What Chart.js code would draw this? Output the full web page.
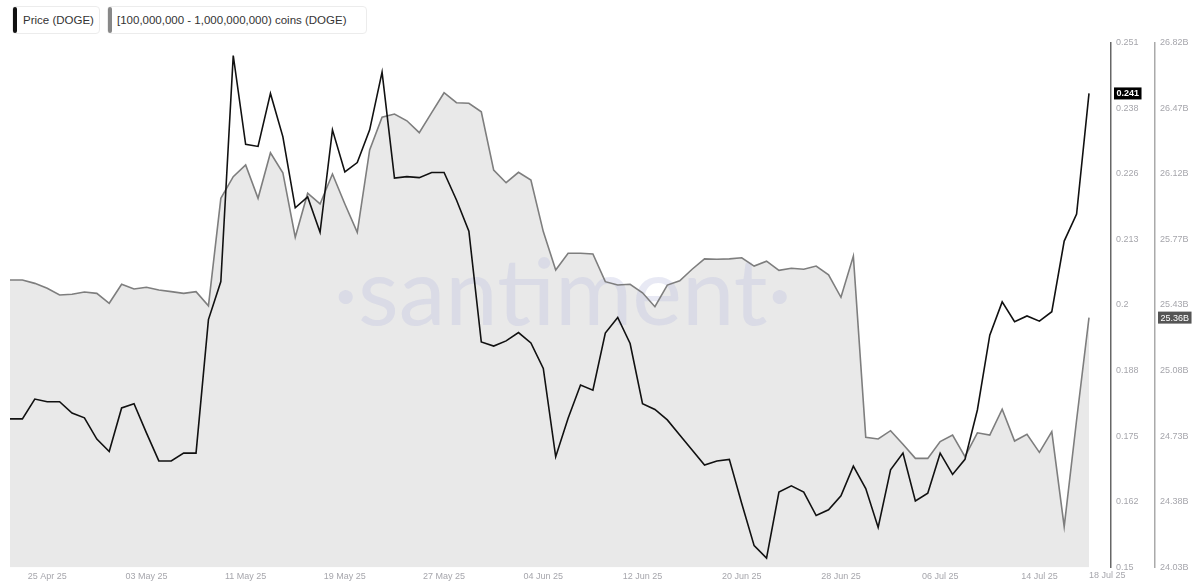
<!DOCTYPE html>
<html><head><meta charset="utf-8">
<script src="https://cdn.jsdelivr.net/npm/chart.js@4"></script>
<style>
html,body{margin:0;padding:0;background:#fff;width:1200px;height:587px;overflow:hidden;}
#wrap{position:relative;width:1200px;height:587px;}
#c{position:absolute;left:0;top:0;}
.leg{position:absolute;top:6px;height:28px;border:1px solid #ececec;border-radius:4px;box-sizing:border-box;font:11.5px "Liberation Sans",Arial,sans-serif;color:#333;line-height:26px;white-space:nowrap;background:#fff;}
.leg i{position:absolute;left:0;top:0;bottom:0;width:4px;border-radius:2px;}
</style></head>
<body><div id="wrap">
<canvas id="c" width="1200" height="587"></canvas>
<div class="leg" style="left:12px;width:88px;padding-left:10px;"><i style="background:#111"></i>Price (DOGE)</div>
<div class="leg" style="left:107px;width:260px;padding-left:9px;"><i style="background:#888"></i>[100,000,000 - 1,000,000,000) coins (DOGE)</div>
</div>
<script>
const price = [0.1786,0.1786,0.1824,0.1819,0.1819,0.1797,0.1788,0.1747,0.1723,0.1807,
0.1815,0.1759,0.1705,0.1705,0.1720,0.1720,0.1977,0.2050,0.2485,0.2314,
0.2310,0.2412,0.2329,0.2192,0.2213,0.2145,0.2342,0.2261,0.2279,0.2342,
0.2453,0.2249,0.2252,0.2250,0.2260,0.2260,0.2207,0.2147,0.1934,0.1926,
0.1936,0.1952,0.1932,0.1883,0.1713,0.1787,0.1851,0.1841,0.1951,0.1981,
0.1931,0.1815,0.1804,0.1784,0.1755,0.1726,0.1697,0.1705,0.1708,0.1623,
0.1542,0.1518,0.1645,0.1657,0.1645,0.1600,0.1611,0.1638,0.1695,0.1652,
0.1577,0.1688,0.1720,0.1628,0.1643,0.1720,0.1679,0.1708,0.1803,0.1947,
0.2011,0.1973,0.1984,0.1974,0.1992,0.2128,0.2180,0.2412];
const coins = [25.558,25.558,25.540,25.514,25.478,25.482,25.494,25.487,25.434,25.535,
25.510,25.519,25.505,25.496,25.487,25.496,25.421,25.992,26.107,26.169,
25.992,26.234,26.128,25.785,26.019,25.962,26.121,25.962,25.811,26.249,
26.423,26.440,26.404,26.341,26.447,26.553,26.500,26.497,26.452,26.142,
26.075,26.130,26.089,25.815,25.611,25.700,25.700,25.696,25.549,25.531,
25.535,25.490,25.416,25.531,25.554,25.615,25.670,25.668,25.670,25.676,
25.632,25.658,25.609,25.620,25.615,25.632,25.585,25.466,25.685,24.722,
24.713,24.757,24.685,24.610,24.610,24.699,24.734,24.619,24.746,24.734,
24.871,24.702,24.738,24.642,24.752,24.247,24.814,25.358];
const priceTicks = ['0.15','0.162','0.175','0.188','0.2','0.213','0.226','0.238','0.251'];
const coinTicks = ['24.03B','24.38B','24.73B','25.08B','25.43B','25.77B','26.12B','26.47B','26.82B'];
const xTickLabels = ['25 Apr 25','03 May 25','11 May 25','19 May 25','27 May 25','04 Jun 25','12 Jun 25','20 Jun 25','28 Jun 25','06 Jul 25','14 Jul 25','18 Jul 25'];
const xTickIdx = [3,11,19,27,35,43,51,59,67,75,83,87];

const tickFont = {family:'"Liberation Sans", Arial, sans-serif', size:9};
const tickColor = '#a6a6ac';

const toXY = arr => arr.map((v,i)=>({x:i,y:v}));

const watermark = {
  id:'watermark',
  beforeDatasetsDraw(chart){
    const ctx = chart.ctx, a = chart.chartArea;
    ctx.save();
    ctx.font = '400 94px Lato, "Open Sans", sans-serif';
    ctx.fillStyle = 'rgba(190,194,225,0.36)';
    ctx.textAlign = 'center';
    ctx.textBaseline = 'alphabetic';
    ctx.fillText('\u00b7santiment\u00b7', a.left + (a.right-a.left)*0.502, 325);
    ctx.restore();
  }
};
const extras = {
  id:'extras',
  afterDraw(chart){
    const ctx = chart.ctx;
    const xs = chart.scales.x, yp = chart.scales.yPrice, yc = chart.scales.yCoins;
    ctx.save();
    ctx.font = '9px "Liberation Sans", Arial, sans-serif';
    ctx.fillStyle = tickColor;
    ctx.textAlign = 'left'; ctx.textBaseline = 'top';
    ctx.fillText(xTickLabels[xTickLabels.length-1], xs.getPixelForValue(xTickIdx[xTickIdx.length-1]), xs.top + 4);
    const lp = price[price.length-1], lc = coins[coins.length-1];
    ctx.textBaseline = 'middle';
    let y = yp.getPixelForValue(lp);
    let t = lp.toFixed(3);
    ctx.font = 'bold 9px "Liberation Sans", Arial, sans-serif';
    let w = ctx.measureText(t).width + 5;
    ctx.fillStyle = '#000';
    ctx.fillRect(yp.left + 3, y - 6, w, 12);
    ctx.fillStyle = '#fff';
    ctx.fillText(t, yp.left + 5.5, y + 0.5);
    y = yc.getPixelForValue(lc);
    t = lc.toFixed(2) + 'B';
    ctx.font = '9px "Liberation Sans", Arial, sans-serif';
    w = ctx.measureText(t).width + 5;
    ctx.fillStyle = '#555';
    ctx.fillRect(yc.left + 3, y - 6, w, 12);
    ctx.fillStyle = '#fff';
    ctx.fillText(t, yc.left + 5.5, y + 0.5);
    ctx.restore();
  }
};

new Chart(document.getElementById('c'), {
  type:'line',
  data:{datasets:[
    {label:'Price (DOGE)', data:toXY(price), yAxisID:'yPrice', borderColor:'#111', borderWidth:1.6, pointRadius:0, fill:false, tension:0, order:1},
    {label:'[100,000,000 - 1,000,000,000) coins (DOGE)', data:toXY(coins), yAxisID:'yCoins', borderColor:'#7e7e7e', borderWidth:1.6, pointRadius:0, fill:'start', backgroundColor:'#e9e9e9', tension:0, order:2}
  ]},
  options:{
    responsive:false, animation:false, events:[],
    layout:{padding:{top:42.5,left:10,right:0,bottom:0}},
    plugins:{legend:{display:false}, tooltip:{enabled:false}, filler:{drawTime:'beforeDraw'}},
    scales:{
      x:{type:'linear', min:0, max:(price.length-1)*1101/1079, grid:{display:false, drawTicks:false}, border:{display:false},
         afterBuildTicks(s){ s.ticks = xTickIdx.slice(0,-1).map(v=>({value:v})); },
         afterFit(s){ s.height = 19.5; },
         ticks:{autoSkip:false, maxRotation:0, padding:4, font:tickFont, color:tickColor,
                callback:(v,i)=>xTickLabels[i]}},
      yPrice:{type:'linear', position:'right', weight:0, min:0.15, max:0.251,
         grid:{display:false, drawTicks:false}, border:{display:true, color:'#666', width:1.5},
         afterBuildTicks(s){ s.ticks = priceTicks.map((l,k)=>({value:s.min+k*(s.max-s.min)/(priceTicks.length-1)})); },
         afterFit(s){ s.width = 44; },
         ticks:{padding:5, font:tickFont, color:tickColor, callback:(v,i)=>priceTicks[i]}},
      yCoins:{type:'linear', position:'right', weight:1, min:24.03, max:26.82,
         grid:{display:false, drawTicks:false}, border:{display:true, color:'#aaa', width:1.5},
         afterBuildTicks(s){ s.ticks = coinTicks.map((l,k)=>({value:s.min+k*(s.max-s.min)/(coinTicks.length-1)})); },
         afterFit(s){ s.width = 45; },
         ticks:{padding:5, font:tickFont, color:tickColor, callback:(v,i)=>coinTicks[i]}}
    }
  },
  plugins:[watermark, extras]
});
</script>
</body></html>
